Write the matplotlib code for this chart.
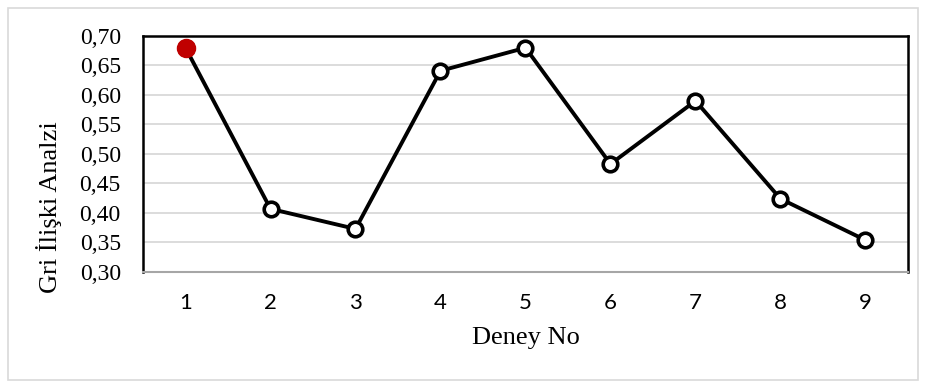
import matplotlib.pyplot as plt
from matplotlib.patches import Rectangle
from matplotlib.ticker import FuncFormatter

# deney numaralari ve gri iliski analizi degerleri
deney = [1, 2, 3, 4, 5, 6, 7, 8, 9]
gri_iliski = [0.680, 0.407, 0.373, 0.641, 0.680, 0.483, 0.590, 0.424, 0.354]
y_ticks = [0.30, 0.35, 0.40, 0.45, 0.50, 0.55, 0.60, 0.65, 0.70]

fig = plt.figure(figsize=(9.25, 3.87), dpi=100)
ax = fig.add_axes([0.1546, 0.2972, 0.8270, 0.6098])

# dis cerceve
fig.patches.append(Rectangle((0.009, 0.018), 0.983, 0.962, transform=fig.transFigure,
                             fill=False, edgecolor='#d9d9d9', linewidth=1.2))

ax.plot(deney, gri_iliski, '-o', color='black', linewidth=2.8, markersize=10.5,
        markerfacecolor='white', markeredgecolor='black', markeredgewidth=2.6, zorder=3)
# en iyi deney kirmizi ile
ax.plot(deney[0], gri_iliski[0], 'o', color='#c00000', markersize=13, zorder=4)

ax.set_xlim(0.5, 9.5)
ax.set_ylim(0.30, 0.70)
ax.set_xticks(deney)
ax.set_yticks(y_ticks)
ax.yaxis.set_major_formatter(FuncFormatter(lambda v, p: f"{v:.2f}".replace('.', ',')))
ax.grid(axis='y', color='#d9d9d9', linewidth=1.3)
ax.set_axisbelow(True)
ax.tick_params(length=0)
ax.tick_params(axis='y', labelsize=17, pad=16)
ax.tick_params(axis='x', labelsize=16, pad=15)
for lab in ax.get_yticklabels():
    lab.set_family('Liberation Serif')
for lab in ax.get_xticklabels():
    lab.set_family('Lato')

for side in ['left', 'top', 'right']:
    ax.spines[side].set_color('black')
    ax.spines[side].set_linewidth(1.8)
ax.spines['bottom'].set_color('#a6a6a6')
ax.spines['bottom'].set_linewidth(1.5)

ax.set_xlabel('Deney No', family='Liberation Serif', fontsize=19, labelpad=10)
ax.set_ylabel('Gri İlişki Analzi', family='Liberation Serif', fontsize=19)
ax.yaxis.set_label_coords(-0.106, 0.275)

fig.savefig('out.png', dpi=100)
